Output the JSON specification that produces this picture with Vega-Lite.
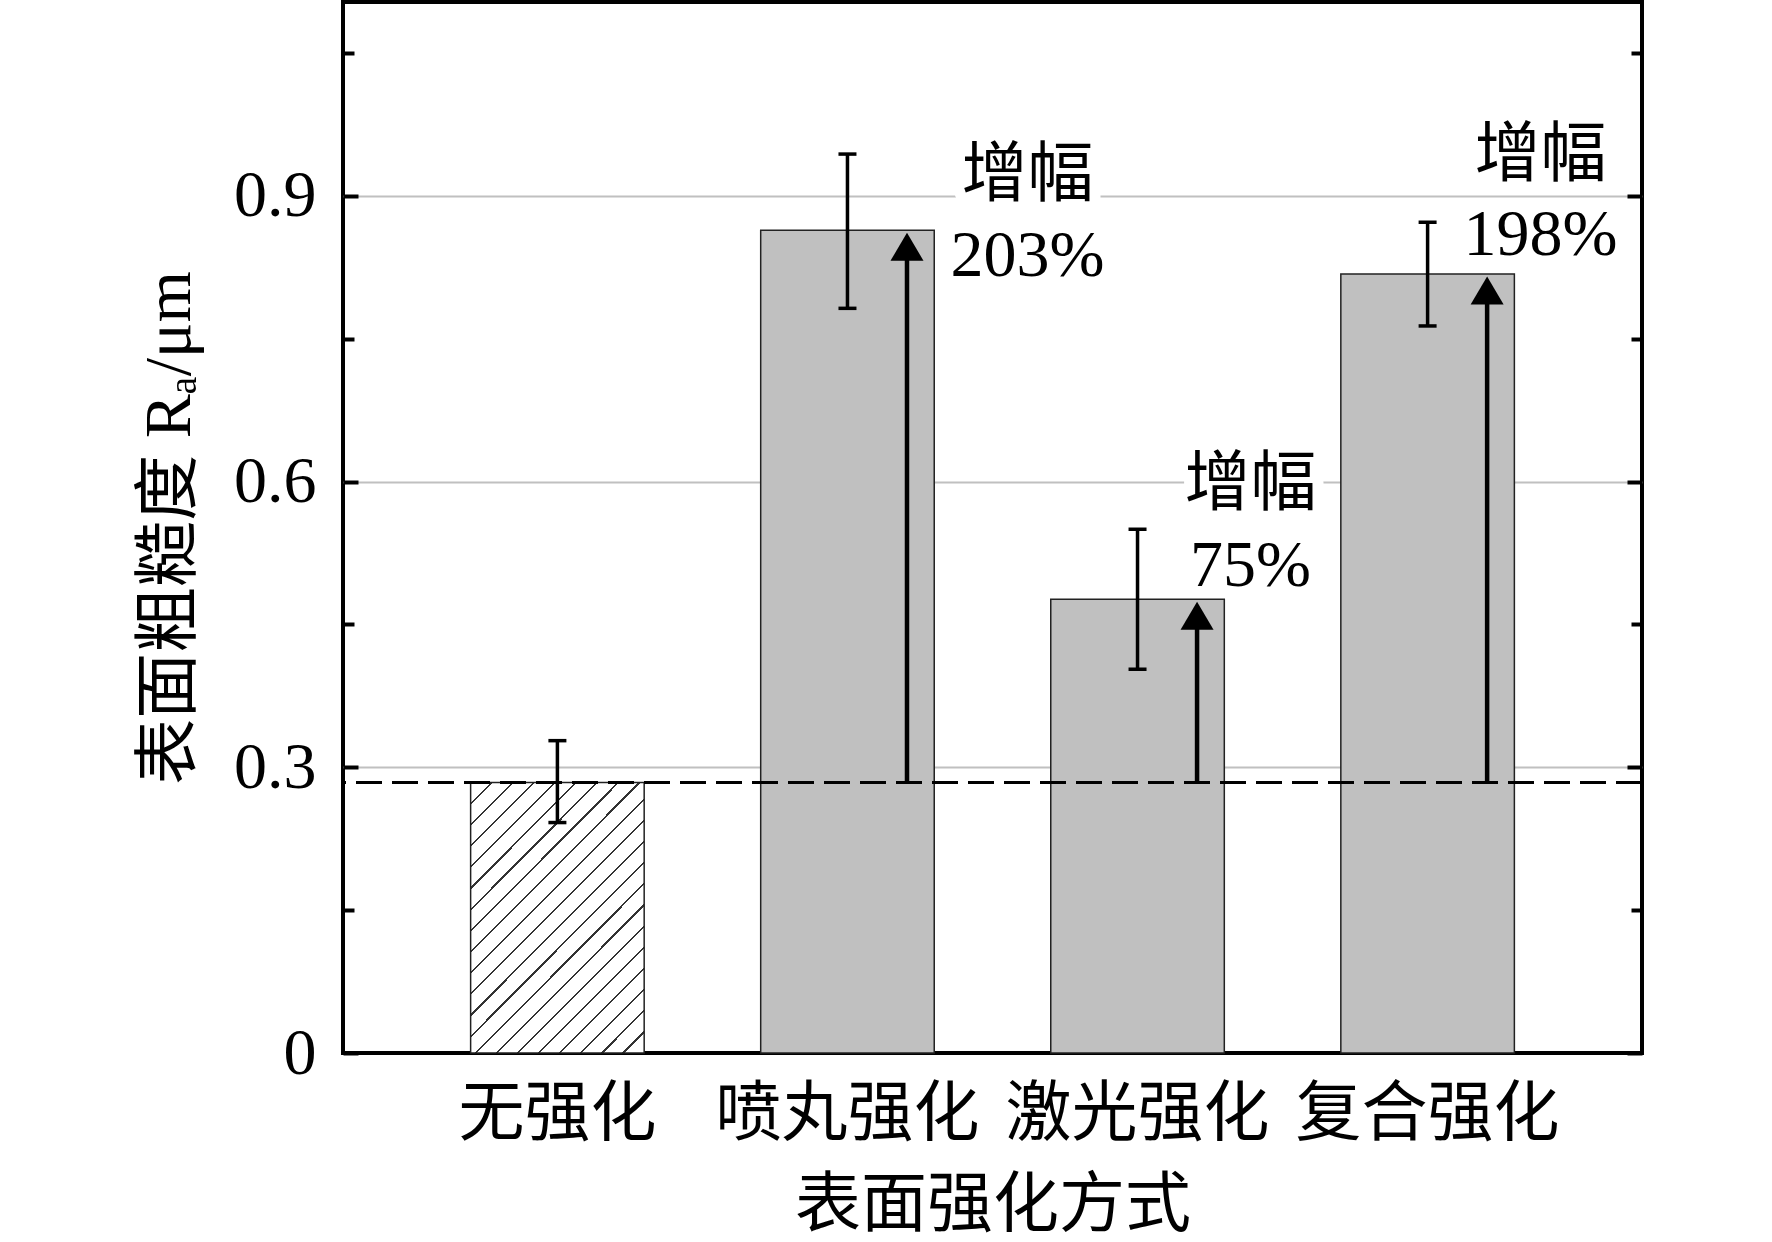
{
  "$schema": "https://vega.github.io/schema/vega-lite/v6.json",
  "width": 1299,
  "height": 1051,
  "autosize": {"type": "none"},
  "padding": {"left": 343, "top": 2, "right": 130, "bottom": 189},
  "background": "white",
  "datasets": {
    "bars": [
      {"method": "无强化", "mean": 0.284, "lo": 0.242, "hi": 0.328, "base": 0.284},
      {"method": "喷丸强化", "mean": 0.864, "lo": 0.782, "hi": 0.944, "base": 0.284},
      {"method": "激光强化", "mean": 0.4765, "lo": 0.403, "hi": 0.55, "base": 0.284},
      {"method": "复合强化", "mean": 0.818, "lo": 0.7635, "hi": 0.8724, "base": 0.284}
    ],
    "notes": [
      {"method": "喷丸强化", "text": "增幅", "v": 0.921, "g": "A"},
      {"method": "喷丸强化", "text": "203%", "v": 0.837, "g": "A"},
      {"method": "激光强化", "text": "增幅", "v": 0.596, "g": "B"},
      {"method": "激光强化", "text": "75%", "v": 0.511, "g": "B"},
      {"method": "复合强化", "text": "增幅", "v": 0.942, "g": "B"},
      {"method": "复合强化", "text": "198%", "v": 0.859, "g": "B"}
    ]
  },
  "data": {"name": "bars"},
  "resolve": {"axis": {"y": "independent"}},
  "layer": [
    {
      "data": {"name": "notes"},
      "transform": [{"filter": "datum.g == 'A'"}],
      "mark": {"type": "text", "fontSize": 66, "font": "Liberation Serif, Noto Sans CJK SC", "align": "center", "baseline": "middle", "dx": 180, "fill": "white", "stroke": "white", "strokeWidth": 22, "strokeJoin": "round"},
      "encoding": {
        "x": {"field": "method", "type": "nominal", "sort": null, "title": "表面强化方式"},
        "y": {"field": "v", "type": "quantitative", "scale": {"domain": [0, 1.1037], "nice": false}, "axis": null},
        "text": {"field": "text"}
      }
    },
    {
      "data": {"name": "notes"},
      "transform": [{"filter": "datum.g == 'B'"}],
      "mark": {"type": "text", "fontSize": 66, "font": "Liberation Serif, Noto Sans CJK SC", "align": "center", "baseline": "middle", "dx": 113, "fill": "white", "stroke": "white", "strokeWidth": 22, "strokeJoin": "round"},
      "encoding": {
        "x": {"field": "method", "type": "nominal", "sort": null, "title": "表面强化方式"},
        "y": {"field": "v", "type": "quantitative", "scale": {"domain": [0, 1.1037], "nice": false}, "axis": null},
        "text": {"field": "text"}
      }
    },
    {
      "transform": [{"filter": "datum.method == '无强化'"}],
      "mark": {
        "type": "bar",
        "stroke": "#222222",
        "strokeWidth": 1.5,
        "fill": {
          "gradient": "linear",
          "x1": 0, "y1": 0, "x2": 0.748, "y2": 1.162,
          "stops": [
            {"offset": 0, "color": "#ffffff"},
            {"offset": 0.0451, "color": "#ffffff"}, {"offset": 0.0451, "color": "#333333"}, {"offset": 0.0501, "color": "#333333"}, {"offset": 0.0501, "color": "#ffffff"},
            {"offset": 0.0927, "color": "#ffffff"}, {"offset": 0.0927, "color": "#333333"}, {"offset": 0.0977, "color": "#333333"}, {"offset": 0.0977, "color": "#ffffff"},
            {"offset": 0.1404, "color": "#ffffff"}, {"offset": 0.1404, "color": "#333333"}, {"offset": 0.1454, "color": "#333333"}, {"offset": 0.1454, "color": "#ffffff"},
            {"offset": 0.188, "color": "#ffffff"}, {"offset": 0.188, "color": "#333333"}, {"offset": 0.193, "color": "#333333"}, {"offset": 0.193, "color": "#ffffff"},
            {"offset": 0.2356, "color": "#ffffff"}, {"offset": 0.2356, "color": "#333333"}, {"offset": 0.2406, "color": "#333333"}, {"offset": 0.2406, "color": "#ffffff"},
            {"offset": 0.2832, "color": "#ffffff"}, {"offset": 0.2832, "color": "#333333"}, {"offset": 0.2882, "color": "#333333"}, {"offset": 0.2882, "color": "#ffffff"},
            {"offset": 0.3308, "color": "#ffffff"}, {"offset": 0.3308, "color": "#333333"}, {"offset": 0.3358, "color": "#333333"}, {"offset": 0.3358, "color": "#ffffff"},
            {"offset": 0.3785, "color": "#ffffff"}, {"offset": 0.3785, "color": "#333333"}, {"offset": 0.3835, "color": "#333333"}, {"offset": 0.3835, "color": "#ffffff"},
            {"offset": 0.4261, "color": "#ffffff"}, {"offset": 0.4261, "color": "#333333"}, {"offset": 0.4311, "color": "#333333"}, {"offset": 0.4311, "color": "#ffffff"},
            {"offset": 0.4737, "color": "#ffffff"}, {"offset": 0.4737, "color": "#333333"}, {"offset": 0.4787, "color": "#333333"}, {"offset": 0.4787, "color": "#ffffff"},
            {"offset": 0.5213, "color": "#ffffff"}, {"offset": 0.5213, "color": "#333333"}, {"offset": 0.5263, "color": "#333333"}, {"offset": 0.5263, "color": "#ffffff"},
            {"offset": 0.5689, "color": "#ffffff"}, {"offset": 0.5689, "color": "#333333"}, {"offset": 0.5739, "color": "#333333"}, {"offset": 0.5739, "color": "#ffffff"},
            {"offset": 0.6166, "color": "#ffffff"}, {"offset": 0.6166, "color": "#333333"}, {"offset": 0.6216, "color": "#333333"}, {"offset": 0.6216, "color": "#ffffff"},
            {"offset": 0.6642, "color": "#ffffff"}, {"offset": 0.6642, "color": "#333333"}, {"offset": 0.6692, "color": "#333333"}, {"offset": 0.6692, "color": "#ffffff"},
            {"offset": 0.7118, "color": "#ffffff"}, {"offset": 0.7118, "color": "#333333"}, {"offset": 0.7168, "color": "#333333"}, {"offset": 0.7168, "color": "#ffffff"},
            {"offset": 0.7594, "color": "#ffffff"}, {"offset": 0.7594, "color": "#333333"}, {"offset": 0.7644, "color": "#333333"}, {"offset": 0.7644, "color": "#ffffff"},
            {"offset": 0.807, "color": "#ffffff"}, {"offset": 0.807, "color": "#333333"}, {"offset": 0.812, "color": "#333333"}, {"offset": 0.812, "color": "#ffffff"},
            {"offset": 0.8546, "color": "#ffffff"}, {"offset": 0.8546, "color": "#333333"}, {"offset": 0.8596, "color": "#333333"}, {"offset": 0.8596, "color": "#ffffff"},
            {"offset": 0.9023, "color": "#ffffff"}, {"offset": 0.9023, "color": "#333333"}, {"offset": 0.9073, "color": "#333333"}, {"offset": 0.9073, "color": "#ffffff"},
            {"offset": 0.9499, "color": "#ffffff"}, {"offset": 0.9499, "color": "#333333"}, {"offset": 0.9549, "color": "#333333"}, {"offset": 0.9549, "color": "#ffffff"},
            {"offset": 1, "color": "#ffffff"}
          ]
        }
      },
      "encoding": {
        "x": {
          "field": "method",
          "type": "nominal",
          "sort": null,
          "title": "表面强化方式",
          "scale": {
            "type": "band",
            "domain": ["无强化", "喷丸强化", "激光强化", "复合强化"],
            "paddingInner": 0.4017,
            "paddingOuter": 0.44
          }
        },
        "y": {
          "field": "mean",
          "type": "quantitative",
          "scale": {"domain": [0, 1.1037], "nice": false},
          "axis": {
            "orient": "left",
            "title": "表面粗糙度 Rₐ/μm",
            "titlePadding": 30,
            "values": [0, 0.15, 0.3, 0.45, 0.6, 0.75, 0.9, 1.05],
            "labelExpr": "datum.value == 0 ? '0' : (datum.value == 0.3 || datum.value == 0.6 || datum.value == 0.9) ? format(datum.value, '.1f') : ''",
            "tickSize": {"condition": {"test": "datum.value == 0 || datum.value == 0.3 || datum.value == 0.6 || datum.value == 0.9", "value": -15}, "value": -11},
            "labelPadding": 42,
            "grid": true,
            "gridColor": "#c0c0c0",
            "gridWidth": 2,
            "gridOpacity": {"condition": {"test": "datum.value == 0.3 || datum.value == 0.6 || datum.value == 0.9", "value": 1}, "value": 0}
          }
        }
      }
    },
    {
      "transform": [{"filter": "datum.method != '无强化'"}],
      "mark": {"type": "bar", "fill": "#c0c0c0", "stroke": "#222222", "strokeWidth": 1.5},
      "encoding": {
        "x": {"field": "method", "type": "nominal", "sort": null, "title": "表面强化方式"},
        "y": {"field": "mean", "type": "quantitative", "scale": {"domain": [0, 1.1037], "nice": false}, "axis": null}
      }
    },
    {
      "mark": {"type": "rule", "color": "black", "strokeWidth": 3.5},
      "encoding": {
        "x": {"field": "method", "type": "nominal", "sort": null, "title": "表面强化方式"},
        "y": {"field": "lo", "type": "quantitative", "scale": {"domain": [0, 1.1037], "nice": false}, "axis": null},
        "y2": {"field": "hi"}
      }
    },
    {
      "mark": {"type": "tick", "color": "black", "size": 18, "thickness": 3.5, "opacity": 1},
      "encoding": {
        "x": {"field": "method", "type": "nominal", "sort": null, "title": "表面强化方式"},
        "y": {"field": "hi", "type": "quantitative", "scale": {"domain": [0, 1.1037], "nice": false}, "axis": null}
      }
    },
    {
      "mark": {"type": "tick", "color": "black", "size": 18, "thickness": 3.5, "opacity": 1},
      "encoding": {
        "x": {"field": "method", "type": "nominal", "sort": null, "title": "表面强化方式"},
        "y": {"field": "lo", "type": "quantitative", "scale": {"domain": [0, 1.1037], "nice": false}, "axis": null}
      }
    },
    {
      "transform": [{"filter": "datum.method == '无强化'"}],
      "mark": {"type": "rule", "color": "black", "strokeWidth": 3, "strokeDash": [26, 10]},
      "encoding": {
        "y": {
          "field": "mean",
          "type": "quantitative",
          "scale": {"domain": [0, 1.1037], "nice": false},
          "axis": {
            "orient": "right",
            "title": null,
            "labels": false,
            "grid": false,
            "values": [0, 0.15, 0.3, 0.45, 0.6, 0.75, 0.9, 1.05],
            "tickSize": {"condition": {"test": "datum.value == 0 || datum.value == 0.3 || datum.value == 0.6 || datum.value == 0.9", "value": -15}, "value": -11}
          }
        }
      }
    },
    {
      "transform": [{"filter": "datum.method != '无强化'"}],
      "mark": {"type": "rule", "color": "black", "strokeWidth": 4.5, "y2Offset": 14},
      "encoding": {
        "x": {"field": "method", "type": "nominal", "sort": null, "title": "表面强化方式", "bandPosition": 0.843},
        "y": {"field": "base", "type": "quantitative", "scale": {"domain": [0, 1.1037], "nice": false}, "axis": null},
        "y2": {"field": "mean"}
      }
    },
    {
      "transform": [{"filter": "datum.method != '无强化'"}],
      "mark": {"type": "point", "shape": "M-1,1.85L1,1.85L0,0.15Z", "filled": true, "fill": "black", "stroke": null, "opacity": 1, "size": 1089},
      "encoding": {
        "x": {"field": "method", "type": "nominal", "sort": null, "title": "表面强化方式", "bandPosition": 0.843},
        "y": {"field": "mean", "type": "quantitative", "scale": {"domain": [0, 1.1037], "nice": false}, "axis": null}
      }
    },
    {
      "data": {"name": "notes"},
      "transform": [{"filter": "datum.g == 'A'"}],
      "mark": {"type": "text", "fontSize": 66, "font": "Liberation Serif, Noto Sans CJK SC", "align": "center", "baseline": "middle", "dx": 180, "fill": "black"},
      "encoding": {
        "x": {"field": "method", "type": "nominal", "sort": null, "title": "表面强化方式"},
        "y": {"field": "v", "type": "quantitative", "scale": {"domain": [0, 1.1037], "nice": false}, "axis": null},
        "text": {"field": "text"}
      }
    },
    {
      "data": {"name": "notes"},
      "transform": [{"filter": "datum.g == 'B'"}],
      "mark": {"type": "text", "fontSize": 66, "font": "Liberation Serif, Noto Sans CJK SC", "align": "center", "baseline": "middle", "dx": 113, "fill": "black"},
      "encoding": {
        "x": {"field": "method", "type": "nominal", "sort": null, "title": "表面强化方式"},
        "y": {"field": "v", "type": "quantitative", "scale": {"domain": [0, 1.1037], "nice": false}, "axis": null},
        "text": {"field": "text"}
      }
    }
  ],
  "config": {
    "view": {"stroke": "black", "strokeWidth": 4},
    "font": "Liberation Serif, Noto Sans CJK SC",
    "axis": {
      "domain": false,
      "labelFont": "Liberation Serif, Noto Sans CJK SC",
      "labelFontSize": 66,
      "labelColor": "black",
      "titleFont": "Liberation Serif, Noto Sans CJK SC",
      "titleFontSize": 66,
      "titleFontWeight": "normal",
      "titleColor": "black",
      "tickColor": "black",
      "tickWidth": 4
    },
    "axisX": {
      "labelAngle": 0,
      "tickSize": -15,
      "labelPadding": 44,
      "labelLimit": 600,
      "labelOverlap": false,
      "titlePadding": 26,
      "grid": false
    }
  }
}
